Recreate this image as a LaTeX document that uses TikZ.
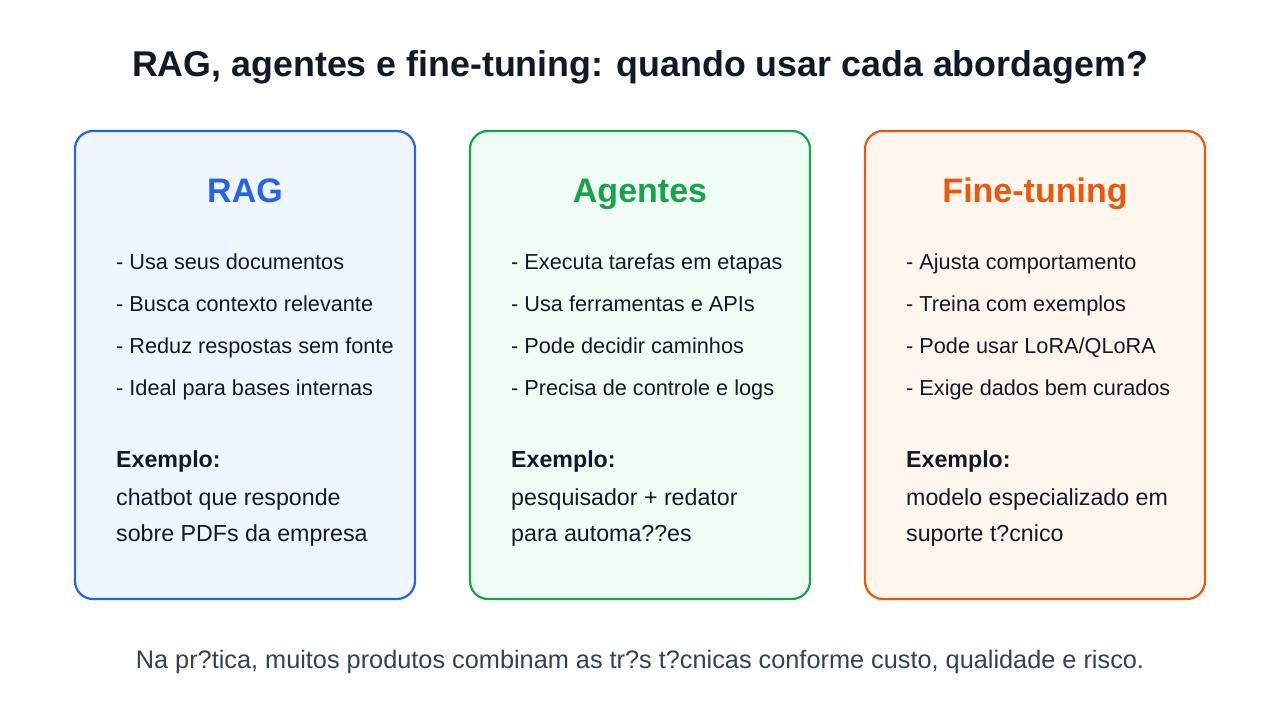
\documentclass[tikz,border=0pt]{standalone}
\usepackage{fontspec}
\setmainfont{Liberation Sans}
\usetikzlibrary{positioning}
\definecolor{ink}{HTML}{111827}
\definecolor{foot}{HTML}{334155}
\definecolor{ragc}{HTML}{2563EB}
\definecolor{ragf}{HTML}{EFF6FF}
\definecolor{agtc}{HTML}{16A34A}
\definecolor{agtf}{HTML}{F0FDF4}
\definecolor{ftc}{HTML}{EA580C}
\definecolor{ftf}{HTML}{FFF7ED}
\begin{document}
\begin{tikzpicture}[x=1pt,y=-1pt]
\tikzset{
  card/.style={draw=#1, line width=2.2pt, rounded corners=18pt},
  head/.style={font=\fontsize{34}{40}\selectfont\bfseries, text=#1, anchor=base},
  item/.style={font=\fontsize{21.7}{26}\selectfont, text=ink, anchor=base west, inner sep=0pt},
  extext/.style={item, font=\fontsize{23.2}{28}\selectfont},
  every node/.append style={inner sep=0pt}
}
\useasboundingbox[fill=white] (0,0) rectangle (1280,720);
\node[font=\fontsize{35.8}{42}\selectfont\bfseries, text=ink, anchor=base] (title) at (640,76) {RAG, agentes e fine-tuning: quando usar cada abordagem?};
% cards
\foreach \n/\x/\c/\f/\h in {rag/75/ragc/ragf/RAG, agt/470/agtc/agtf/Agentes, ft/865/ftc/ftf/Fine-tuning}{
  \filldraw[card=\c, fill=\f] (\x,131) rectangle ++(340,468);
  \node[head=\c] (\n-head) at (\x+170,202) {\h};
  \node[extext, font=\fontsize{23.2}{28}\selectfont\bfseries] (\n-ex) at (\x+41,467) {Exemplo:};
}
% RAG
\node[item] (rag-1) at (116,269) {- Usa seus documentos};
\node[item] (rag-2) at (116,311) {- Busca contexto relevante};
\node[item] (rag-3) at (116,353) {- Reduz respostas sem fonte};
\node[item] (rag-4) at (116,395) {- Ideal para bases internas};
\node[extext] (rag-5) at (116,505) {chatbot que responde};
\node[extext] (rag-6) at (116,541) {sobre PDFs da empresa};
% Agentes
\node[item] (agt-1) at (511,269) {- Executa tarefas em etapas};
\node[item] (agt-2) at (511,311) {- Usa ferramentas e APIs};
\node[item] (agt-3) at (511,353) {- Pode decidir caminhos};
\node[item] (agt-4) at (511,395) {- Precisa de controle e logs};
\node[extext] (agt-5) at (511,505) {pesquisador + redator};
\node[extext] (agt-6) at (511,541) {para automa??es};
% Fine-tuning
\node[item] (ft-1) at (906,269) {- Ajusta comportamento};
\node[item] (ft-2) at (906,311) {- Treina com exemplos};
\node[item] (ft-3) at (906,353) {- Pode usar LoRA/QLoRA};
\node[item] (ft-4) at (906,395) {- Exige dados bem curados};
\node[extext] (ft-5) at (906,505) {modelo especializado em};
\node[extext] (ft-6) at (906,541) {suporte t?cnico};
\node[font=\fontsize{25.3}{30}\selectfont, text=foot, anchor=base] (note) at (640,668) {Na pr?tica, muitos produtos combinam as tr?s t?cnicas conforme custo, qualidade e risco.};
\end{tikzpicture}
\end{document}
